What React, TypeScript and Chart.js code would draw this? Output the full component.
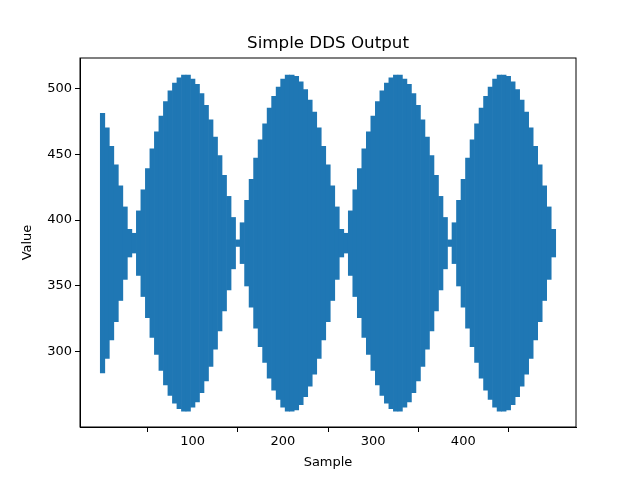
import React, { useEffect, useRef } from "react";
import { Chart, registerables } from "chart.js";
Chart.register(...registerables);

const samples = Array.from({ length: 101 }, (_, i) => i * 5);
const highs = [
  481,470,456,442,426,410,393,390,407,423,439,454,467,479,490,498,504,508,510,510,507,503,496,487,476,463,449,434,418,402,385,
  398,415,431,447,461,473,485,494,501,507,510,510,509,505,499,491,482,470,456,442,426,410,393,390,
  407,423,439,454,467,479,490,498,504,508,510,510,507,503,496,487,476,463,449,434,418,402,385,
  398,415,431,447,461,473,485,494,501,507,510,510,509,505,499,491,482,470,456,442,426,410,393,
];
const lows = highs.map((h) => 765 - h);

export default function App() {
  const ref = useRef<HTMLCanvasElement>(null);
  useEffect(() => {
    const font = { family: "DejaVu Sans", size: 13 };
    const chart = new Chart(ref.current!, {
      type: "bar",
      data: {
        datasets: [{
          data: samples.map((s, i) => ({ x: s, y: [lows[i], highs[i]] })) as any,
          backgroundColor: "#1f77b4",
          borderWidth: 0,
          barPercentage: 1,
          categoryPercentage: 1,
        }],
      },
      options: {
        animation: false,
        responsive: false,
        layout: { padding: { left: 20, right: 64, top: 58, bottom: 10 } },
        plugins: { legend: { display: false }, tooltip: { enabled: false } },
        scales: {
          x: {
            type: "linear", min: -25, max: 525, offset: false,
            afterFit: (s: any) => { s.height = 43; },
            grid: { drawOnChartArea: false, tickLength: 5, tickColor: "#000" },
            border: { color: "#000" },
            ticks: { color: "#000", font, maxRotation: 0, padding: 2, stepSize: 100, callback: (v: any) => (v % 100 === 0 ? String(v) : null) },
            title: { display: true, text: "Sample", color: "#000", font, padding: 0 },
          },
          y: {
            min: 243, max: 523,
            afterFit: (s: any) => { s.width = 60; },
            grid: { drawOnChartArea: false, tickLength: 5, tickColor: "#000" },
            border: { color: "#000" },
            ticks: { color: "#000", font, padding: 3, stepSize: 50, callback: (v: any) => (v % 50 === 0 ? String(v) : null) },
            title: { display: true, text: "Value", color: "#000", font, padding: 0 },
          },
        },
      },
      plugins: [{
        id: "frame",
        afterDraw(c: any) {
          const { ctx, chartArea: a } = c;
          ctx.save();
          ctx.strokeStyle = "#000";
          ctx.lineWidth = 1;
          ctx.strokeRect(a.left, a.top, a.right - a.left, a.bottom - a.top);
          ctx.fillStyle = "#000";
          ctx.font = "16.7px 'DejaVu Sans'";
          ctx.textAlign = "center";
          ctx.textBaseline = "bottom";
          ctx.fillText("Simple DDS Output", (a.left + a.right) / 2, a.top - 6);
          ctx.restore();
        },
      }],
    } as any);
    return () => chart.destroy();
  }, []);
  return (
    <div style={{ position: "absolute", left: 0, top: 0, background: "#fff" }}>
      <canvas ref={ref} width={640} height={480} />
    </div>
  );
}
